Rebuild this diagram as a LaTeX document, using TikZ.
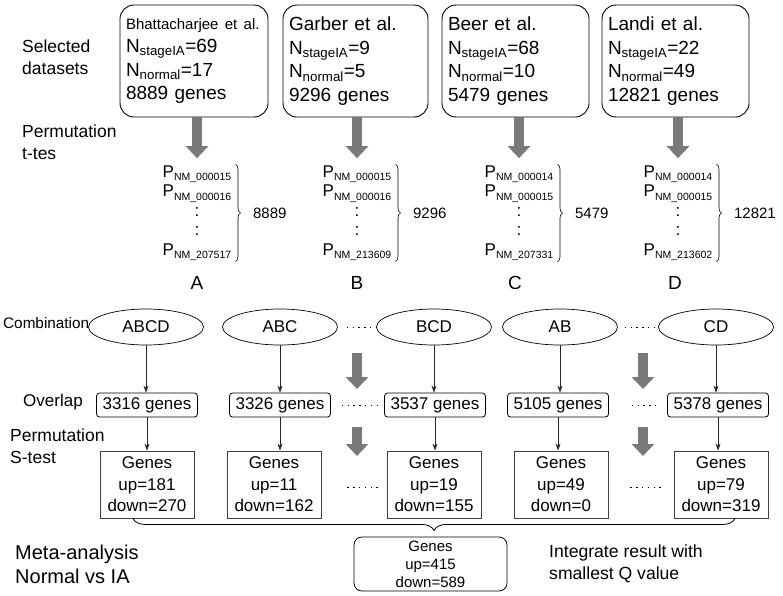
\documentclass[tikz,border=0pt]{standalone}
\usepackage{fontspec}
\setmainfont{Liberation Sans}
\usetikzlibrary{shapes.geometric, arrows.meta, decorations.pathreplacing, positioning}

\newcommand\fs[2]{\fontsize{#1}{#2}\selectfont}
\newcommand\pnm[1]{P{\fs{10.5}{12}\raisebox{-3.5pt}{NM\_#1}}}
\newcommand\nsub[1]{N\textsubscript{#1}}

\tikzset{
  dataset/.style={draw, line width=0.9pt, rounded corners=14pt, minimum height=112pt,
    inner xsep=6pt, align=left, font=\fs{19}{23.5}},
  plist/.style={inner sep=1pt, align=center, font=\fs{17}{19.5}},
  pbrace/.style={decorate, decoration={brace, amplitude=5pt}, line width=0.6pt},
  gbrace/.style={decorate, decoration={brace, mirror, amplitude=12pt}, line width=0.8pt},
  combo/.style={draw, ellipse, line width=0.7pt, minimum width=115pt, minimum height=36pt,
    inner sep=0pt, font=\fs{17}{20}},
  ovbox/.style={draw, rounded corners=3pt, line width=0.8pt, minimum height=24pt,
    inner xsep=6pt, inner ysep=0pt, font=\fs{17}{20}},
  genebox/.style={draw=black!75, line width=0.9pt, minimum width=94pt, minimum height=67pt,
    inner sep=0pt, align=center, font=\fs{17}{21.5}},
  thinarrow/.style={-{Stealth[length=7pt,width=5pt]}, line width=0.7pt, draw=black!85},
  grayarrow/.style={-{Triangle[length=12pt,width=22pt]}, line width=10pt, draw=black!52},
  omit/.style={line width=1pt, dash pattern=on 1.3pt off 4.5pt},
  rowlabel/.style={anchor=west, align=left, inner sep=1pt, font=\fs{17.5}{22}}
}

\begin{document}
\begin{tikzpicture}[x=1pt, y=-1pt]
\useasboundingbox (0,0) rectangle (783,595);

% row labels
\node[rowlabel] (lsel) at (21,57) {Selected\\datasets};
\node[rowlabel] (lperm) at (21,142) {Permutation\\t-tes};
\node[rowlabel, font=\fs{15.3}{18}] (lcomb) at (2,323) {Combination};
\node[rowlabel, font=\fs{17}{20}] (lover) at (22,402) {Overlap};
\node[rowlabel] (lstest) at (9,446) {Permutation\\S-test};
\node[rowlabel, font=\fs{20}{24}] (lmeta) at (14,564) {Meta-analysis\\Normal vs IA};
\node[rowlabel, font=\fs{17.6}{22}] (lint) at (548,564) {Integrate result with\\smallest Q value};

% selected datasets
\node[dataset, minimum width=148pt, text width=136pt] (bhat) at (194,61)
  {{\fs{15}{23.5}Bhattacharjee et al.}\\\nsub{stageIA}=69\\\nsub{normal}=17\\8889 genes};
\node[dataset, minimum width=145pt, text width=133pt] (garb) at (355.5,61)
  {Garber et al.\\\nsub{stageIA}=9\\\nsub{normal}=5\\9296 genes};
\node[dataset, minimum width=147pt, text width=135pt] (beer) at (515.5,61)
  {Beer et al.\\\nsub{stageIA}=68\\\nsub{normal}=10\\5479 genes};
\node[dataset, minimum width=147pt, text width=135pt] (land) at (675.5,61)
  {Landi et al.\\\nsub{stageIA}=22\\\nsub{normal}=49\\12821 genes};

% p-value lists
\node[plist] (pA) at (197,213) {\pnm{000015}\\\pnm{000016}\\:\\:\\\pnm{207517}};
\node[plist] (pB) at (357,213) {\pnm{000015}\\\pnm{000016}\\:\\:\\\pnm{213609}};
\node[plist] (pC) at (519,213) {\pnm{000014}\\\pnm{000015}\\:\\:\\\pnm{207331}};
\node[plist] (pD) at (678,213) {\pnm{000014}\\\pnm{000015}\\:\\:\\\pnm{213602}};

\draw[pbrace] ([xshift=3pt]pA.north east) -- ([xshift=3pt]pA.south east)
  node[midway, right=14pt, font=\fs{15}{18}] (nA) {8889};
\draw[pbrace] ([xshift=3pt]pB.north east) -- ([xshift=3pt]pB.south east)
  node[midway, right=14pt, font=\fs{15}{18}] (nB) {9296};
\draw[pbrace] ([xshift=3pt]pC.north east) -- ([xshift=3pt]pC.south east)
  node[midway, right=14pt, font=\fs{15}{18}] (nC) {5479};
\draw[pbrace] ([xshift=3pt]pD.north east) -- ([xshift=3pt]pD.south east)
  node[midway, right=14pt, font=\fs{15}{18}] (nD) {12821};

\node[font=\fs{19}{22}] (lA) at (197,283) {A};
\node[font=\fs{19}{22}] (lB) at (357,283) {B};
\node[font=\fs{19}{22}] (lC) at (515,283) {C};
\node[font=\fs{19}{22}] (lD) at (675,283) {D};

\draw[grayarrow] (pA |- bhat.south) -- ([yshift=6pt]pA.north);
\draw[grayarrow] (pB |- garb.south) -- ([yshift=6pt]pB.north);
\draw[grayarrow] (pC |- beer.south) -- ([yshift=6pt]pC.north);
\draw[grayarrow] (pD |- land.south) -- ([yshift=6pt]pD.north);

% combinations
\node[combo] (cABCD) at (146,327) {ABCD};
\node[combo] (cABC) at (280,327) {ABC};
\node[combo] (cBCD) at (434,327) {BCD};
\node[combo] (cAB) at (560,327) {AB};
\node[combo] (cCD) at (716,327) {CD};

% overlaps
\node[ovbox] (oABCD) at (147,405) {3316 genes};
\node[ovbox] (oABC) at (280,405) {3326 genes};
\node[ovbox] (oBCD) at (435,405) {3537 genes};
\node[ovbox] (oAB) at (558,405) {5105 genes};
\node[ovbox] (oCD) at (718,405) {5378 genes};

% S-test results
\node[genebox] (gABCD) at (147,484.5) {Genes\\up=181\\down=270};
\node[genebox] (gABC) at (274,484.5) {Genes\\up=11\\down=162};
\node[genebox] (gBCD) at (434,484.5) {Genes\\up=19\\down=155};
\node[genebox] (gAB) at (561,484.5) {Genes\\up=49\\down=0};
\node[genebox] (gCD) at (721,484.5) {Genes\\up=79\\down=319};

\foreach \c in {ABCD, ABC, BCD, AB, CD} {
  \draw[thinarrow] (c\c.south) -- (c\c.south |- o\c.north);
  \draw[thinarrow] (o\c.south) -- (o\c.south |- g\c.north);
}

% omitted combinations
\coordinate (m1top) at (357,353); \coordinate (m1bot) at (357,389);
\coordinate (m2top) at (357,427); \coordinate (m2bot) at (357,456);
\coordinate (m3top) at (643,353); \coordinate (m3bot) at (643,389);
\coordinate (m4top) at (643,427); \coordinate (m4bot) at (643,456);
\draw[grayarrow] (m1top) -- (m1bot);
\draw[grayarrow] (m2top) -- (m2bot);
\draw[grayarrow] (m3top) -- (m3bot);
\draw[grayarrow] (m4top) -- (m4bot);

\draw[omit] ([xshift=9pt]cABC.east) -- (cBCD.west);
\draw[omit] ([xshift=7pt]cAB.east) -- (cCD.west);
\draw[omit] ([xshift=11pt]oABC.east) -- ([xshift=-3pt]oBCD.west);
\draw[omit] ([xshift=23pt]oAB.east) -- ([xshift=-11pt]oCD.west);
\draw[omit] ([xshift=26pt,yshift=-3pt]gABC.east) -- ([xshift=-9pt,yshift=-3pt]gBCD.west);
\draw[omit] ([xshift=22pt,yshift=-3pt]gAB.east) -- ([xshift=-11pt,yshift=-3pt]gCD.west);

% meta-analysis
\draw[gbrace] ([xshift=-14pt]gABCD.south) -- ([xshift=14pt]gCD.south);
\node[draw, line width=0.8pt, rounded corners=8pt, minimum width=153pt, minimum height=54pt,
  inner sep=0pt, align=center, font=\fs{15}{18}] (meta) at (430.5,564) {Genes\\up=415\\down=589};
\end{tikzpicture}
\end{document}
